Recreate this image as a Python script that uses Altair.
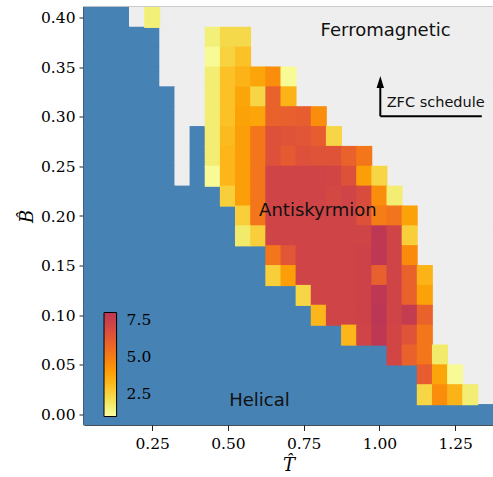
import altair as alt
import pandas as pd

# ---------------- data ----------------
T_VALUES = [0.05, 0.10, 0.15, 0.20, 0.25, 0.30, 0.35, 0.40, 0.45, 0.50,
            0.55, 0.60, 0.65, 0.70, 0.75, 0.80, 0.85, 0.90, 0.95, 1.00,
            1.05, 1.10, 1.15, 1.20, 1.25, 1.30, 1.35]

# rows from top (B = 0.40) to bottom (B = 0.00)
B_VALUES = [0.40, 0.38, 0.36, 0.34, 0.32, 0.30, 0.28, 0.26, 0.24, 0.22,
            0.20, 0.18, 0.16, 0.14, 0.12, 0.10, 0.08, 0.06, 0.04, 0.02, 0.00]

# phase of each cell, run-length coded per row: H helical, F ferromagnetic, A antiskyrmion
PHASE_RUNS = [
    [("H", 3), ("F", 1), ("A", 1), ("F", 22)],
    [("H", 5), ("F", 3), ("A", 3), ("F", 16)],
    [("H", 5), ("F", 3), ("A", 3), ("F", 16)],
    [("H", 5), ("F", 3), ("A", 6), ("F", 13)],
    [("H", 6), ("F", 2), ("A", 6), ("F", 13)],
    [("H", 6), ("F", 2), ("A", 8), ("F", 11)],
    [("H", 6), ("F", 1), ("H", 1), ("A", 9), ("F", 10)],
    [("H", 6), ("F", 1), ("H", 1), ("A", 11), ("F", 8)],
    [("H", 6), ("F", 1), ("H", 1), ("A", 12), ("F", 7)],
    [("H", 9), ("A", 12), ("F", 6)],
    [("H", 10), ("A", 12), ("F", 5)],
    [("H", 10), ("A", 12), ("F", 5)],
    [("H", 12), ("A", 10), ("F", 5)],
    [("H", 12), ("A", 11), ("F", 4)],
    [("H", 14), ("A", 9), ("F", 4)],
    [("H", 15), ("A", 8), ("F", 4)],
    [("H", 17), ("A", 6), ("F", 4)],
    [("H", 20), ("A", 4), ("F", 3)],
    [("H", 22), ("A", 3), ("F", 2)],
    [("H", 22), ("A", 4), ("F", 1)],
    [("H", 27)],
]

# colour value of the antiskyrmion cells, left to right, per row (top to bottom)
ASK_VALUES = [
    [1.6],
    [1.6, 2.3, 2.3],
    [1.2, 2.5, 3.0],
    [1.7, 3.0, 3.4, 3.8, 4.5, 1.2],
    [1.7, 3.0, 3.8, 2.4, 5.9, 3.4],
    [1.7, 3.0, 3.9, 3.8, 5.9, 6.0, 6.1, 4.5],
    [1.7, 3.2, 4.0, 5.2, 6.6, 6.5, 6.4, 6.1, 2.4],
    [1.7, 3.3, 4.0, 5.2, 6.6, 6.2, 6.6, 6.5, 6.5, 5.9, 5.2],
    [1.2, 3.3, 4.0, 5.2, 7.2, 7.2, 7.2, 7.2, 7.1, 6.6, 4.0, 2.4],
    [2.6, 4.0, 5.2, 7.2, 7.2, 7.2, 7.2, 7.0, 7.2, 6.8, 4.5, 1.7],
    [2.6, 5.2, 7.2, 7.2, 7.2, 7.2, 7.2, 7.2, 6.6, 5.0, 5.3, 3.9],
    [1.8, 2.6, 7.2, 7.2, 7.2, 7.2, 7.2, 7.2, 7.2, 7.9, 7.2, 2.6],
    [5.2, 6.4, 7.2, 7.2, 7.2, 7.2, 7.3, 7.9, 7.2, 4.6],
    [2.6, 4.0, 7.2, 7.2, 7.2, 7.2, 7.3, 6.0, 7.2, 5.9, 3.4],
    [2.4, 7.2, 7.2, 7.2, 7.3, 7.9, 7.2, 5.9, 3.9],
    [3.3, 7.2, 7.2, 7.3, 8.0, 7.2, 7.7, 5.9],
    [3.3, 7.2, 7.9, 7.1, 6.5, 5.2],
    [7.1, 5.9, 5.2, 1.8],
    [6.1, 3.8, 1.2],
    [2.4, 4.5, 3.4, 1.7],
    [],
]

X_TICKS = [0.25, 0.50, 0.75, 1.00, 1.25]
Y_TICKS = [0.00, 0.05, 0.10, 0.15, 0.20, 0.25, 0.30, 0.35, 0.40]
CBAR_TICKS = [2.5, 5.0, 7.5]
CBAR_DOMAIN = [1.0, 8.0]

LABEL_TEXT = ["Ferromagnetic", "Antiskyrmion", "Helical"]
LABEL_T = [0.806, 0.603, 0.604]
LABEL_B = [0.381, 0.200, 0.0084]
LABEL_ALIGN = ["left", "left", "center"]

ZFC_TEXT = "ZFC schedule"
ZFC_POS = (1.024, 0.3093)
ARROW_CORNER = (1.003, 0.3005)
ARROW_TOP_B = 0.333
ARROW_HEAD_B = 0.335
ARROW_RIGHT_T = 1.338

# ---------------- build table ----------------
rows = []
for b, runs, vals in zip(B_VALUES, PHASE_RUNS, ASK_VALUES):
    codes = "".join(c * n for c, n in runs)
    assert len(codes) == len(T_VALUES), (b, len(codes))
    it = iter(vals)
    for t, c in zip(T_VALUES, codes):
        rows.append({"T": t, "B": b, "phase": c,
                     "val": next(it) if c == "A" else None})
    assert next(it, None) is None, b
cells = pd.DataFrame(rows)

# half cell sizes, slightly enlarged so neighbouring cells overlap (no seams)
HALF_T = 0.0265
HALF_B = 0.0106

x_scale = alt.Scale(domain=[0.025, 1.375], nice=False, zero=False)
y_scale = alt.Scale(domain=[-0.01, 0.41], nice=False, zero=False)

base = alt.Chart(cells).transform_calculate(
    t0=f"datum.T - {HALF_T}", t1=f"datum.T + {HALF_T}",
    b0=f"datum.B - {HALF_B}", b1=f"datum.B + {HALF_B}")

x_enc = alt.X("t0:Q", scale=x_scale,
              axis=alt.Axis(values=X_TICKS, format=".2f", title="T\u0302",
                            tickSize=6, labelPadding=6, titlePadding=4))
y_enc = alt.Y("b0:Q", scale=y_scale,
              axis=alt.Axis(values=Y_TICKS, format=".2f", title="B\u0302",
                            tickSize=5, labelPadding=4, titlePadding=4))

phase_scale = alt.Scale(domain=["H", "F"], range=["#4682b4", "#eeeeee"])
phase_layer = base.transform_filter("datum.phase != 'A'").mark_rect(strokeWidth=0).encode(
    x=x_enc, x2="t1:Q", y=y_enc, y2="b1:Q",
    color=alt.Color("phase:N", scale=phase_scale, legend=None),
)

cscale = alt.Scale(scheme=alt.SchemeParams(name="inferno", extent=[1.0, 0.5]),
                   domain=CBAR_DOMAIN, nice=False, zero=False)
ask_layer = base.transform_filter("datum.phase == 'A'").mark_rect(strokeWidth=0).encode(
    x="t0:Q", x2="t1:Q", y="b0:Q", y2="b1:Q",
    color=alt.Color("val:Q", scale=cscale, legend=alt.Legend(
        type="gradient", orient="none", legendX=20, legendY=305,
        direction="vertical", title=None,
        gradientLength=104, gradientThickness=12.6, gradientStrokeColor="black",
        gradientStrokeWidth=1, values=CBAR_TICKS, format=".1f",
        labelFont="DejaVu Serif", labelFontSize=15.5, labelColor="black",
        labelOffset=10, padding=0, labelOverlap=False)),
)

labels = pd.DataFrame({"text": LABEL_TEXT, "T": LABEL_T, "B": LABEL_B, "align": LABEL_ALIGN})
label_left = alt.Chart(labels).transform_filter("datum.align == 'left'").mark_text(
    align="left", baseline="alphabetic", font="DejaVu Sans", fontSize=18, color="#111"
).encode(x="T:Q", y="B:Q", text="text:N")
label_center = alt.Chart(labels).transform_filter("datum.align == 'center'").mark_text(
    align="center", baseline="alphabetic", font="DejaVu Sans", fontSize=18, color="#111"
).encode(x="T:Q", y="B:Q", text="text:N")

zfc = pd.DataFrame({"text": [ZFC_TEXT], "T": [ZFC_POS[0]], "B": [ZFC_POS[1]]})
zfc_text = alt.Chart(zfc).mark_text(
    align="left", baseline="alphabetic", font="DejaVu Sans", fontSize=14.5, color="#111"
).encode(x="T:Q", y="B:Q", text="text:N")

arrow_lines = pd.DataFrame({
    "t": [ARROW_CORNER[0], ARROW_CORNER[0]],
    "b": [ARROW_CORNER[1], ARROW_CORNER[1]],
    "t2": [ARROW_CORNER[0], ARROW_RIGHT_T],
    "b2": [ARROW_TOP_B, ARROW_CORNER[1]],
})
arrow_rules = alt.Chart(arrow_lines).mark_rule(color="black", strokeWidth=2).encode(
    x="t:Q", y="b:Q", x2="t2:Q", y2="b2:Q")
arrow_head = alt.Chart(pd.DataFrame({"t": [ARROW_CORNER[0]], "b": [ARROW_HEAD_B]})).mark_point(
    shape="M-0.62,1L0,-1L0.62,1Z", filled=True, color="black", size=144, opacity=1
).encode(x="t:Q", y="b:Q")

chart = alt.layer(
    phase_layer, ask_layer, label_left, label_center, zfc_text, arrow_rules, arrow_head
).resolve_scale(color="independent").properties(
    width=409, height=417,
    autosize=alt.AutoSizeParams(type="none"),
    padding={"left": 84, "top": 7.5, "right": 0, "bottom": 52},
).configure_axis(
    labelFont="DejaVu Serif", labelFontSize=15.5, labelColor="black",
    tickColor="#222", domainColor="#222", domainWidth=1.5, grid=False,
    titleFont="DejaVu Serif", titleFontStyle="italic", titleFontSize=18,
    titleFontWeight="normal", titleColor="black", zindex=1,
).configure_view(stroke="#222", strokeWidth=1.6)

chart.save("out.html", embed_options={"renderer": "svg", "actions": False})
